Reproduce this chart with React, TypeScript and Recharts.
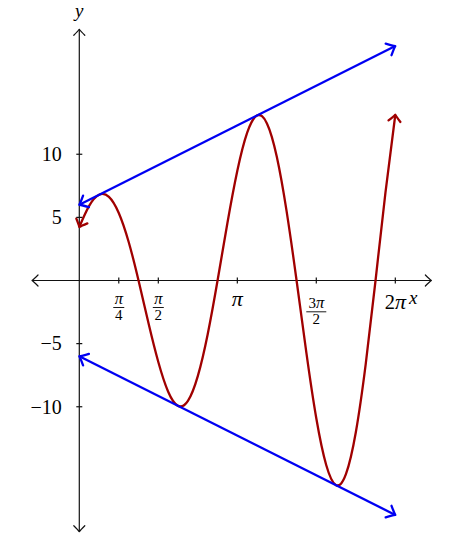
import React from "react";
import { LineChart, Line, XAxis, YAxis, ReferenceDot } from "recharts";

// curve samples
const curveX = [
  0, 0.196, 0.393, 0.589, 0.785, 0.982, 1.178, 1.374, 1.571, 1.767, 1.963,
  2.16, 2.356, 2.553, 2.749, 2.945, 3.142, 3.338, 3.534, 3.731, 3.927, 4.123,
  4.32, 4.516, 4.712, 4.909, 5.105, 5.301, 5.498, 5.694, 5.89, 6.087, 6.283,
];
const curveY = [
  4.24, 5.91, 6.79, 6.63, 5.35, 3.05, 0, -3.35, -6.46, -8.81, -9.93, -9.53,
  -7.57, -4.25, 0, 4.55, 8.69, 11.71, 13.07, 12.44, 9.8, 5.45, 0, -5.75,
  -10.91, -14.61, -16.21, -15.34, -12.02, -6.65, 0, 6.96, 13.13,
];

// envelope lines
const upperX = [0, 6.283];
const upperY = [6, 18.57];
const lowerX = [0, 6.283];
const lowerY = [-6, -18.57];

// axis extents
const xAxisEnds = [-0.94, 7.0];
const yAxisEnds = [-19.9, 19.9];

// ticks
const xTickValues = [0.785, 1.571, 3.142, 4.712, 6.283];
const xTickNum = ["π", "π", "π", "3π", "2π"];
const xTickDen = ["4", "2", "", "2", ""];
const yTickValues = [10, 5, -5, -10];
const yTickLabels = ["10", "5", "−5", "−10"];

const RED = "#a00000";
const BLUE = "#0000f2";
const AXIS = "#111";
const FONT = '"Liberation Serif", "Times New Roman", serif';

const toPoints = (xs: number[], ys: number[]) =>
  xs.map((x, i) => ({ x, y: ys[i] }));

const curveData = toPoints(curveX, curveY);
const upperData = toPoints(upperX, upperY);
const lowerData = toPoints(lowerX, lowerY);
const xAxisData = toPoints(xAxisEnds, [0, 0]);
const yAxisData = toPoints([0, 0], yAxisEnds);

// π goes italic, digits stay upright
const mathSpans = (text: string, piSize: number) =>
  text
    .split(/(π)/)
    .filter(Boolean)
    .map((p, i) => (
      <tspan
        key={`${text}${i}`}
        fontStyle={p === "π" ? "italic" : undefined}
        fontSize={p === "π" ? piSize : undefined}
      >
        {p}
      </tspan>
    ));

const xTickShape = (num: string, den: string) => (p: any) => {
  const { cx, cy } = p;
  const hasDigit = /\d/.test(num);
  const lift = hasDigit ? 4.3 : 0;
  const w = num.length > 1 ? 20 : 11;
  if (!den) {
    return (
      <g>
        <line x1={cx} x2={cx} y1={cy - 3} y2={cy + 3} stroke={AXIS} strokeWidth={1.2} />
        <text
          x={cx}
          y={cy + (hasDigit ? 28.6 : 25.3)}
          textAnchor="middle"
          fontSize={20.5}
          fontFamily={FONT}
          fill="#000"
        >
          {mathSpans(num, 22)}
        </text>
      </g>
    );
  }
  return (
    <g>
      <line x1={cx} x2={cx} y1={cy - 3} y2={cy + 3} stroke={AXIS} strokeWidth={1.2} />
      <line
        x1={cx - w / 2}
        x2={cx + w / 2}
        y1={cy + 27 + lift}
        y2={cy + 27 + lift}
        stroke="#000"
        strokeWidth={0.9}
      />
      <text textAnchor="middle" fontSize={15} fontFamily={FONT} fill="#000">
        <tspan x={cx} y={cy + 23.3 + lift}>
          {mathSpans(num, 16.5)}
        </tspan>
        <tspan x={cx} y={cy + 39.6 + lift}>
          {den}
        </tspan>
      </text>
    </g>
  );
};

const yTickShape = (label: string) => (p: any) => {
  const { cx, cy } = p;
  return (
    <g>
      <line x1={cx - 3} x2={cx + 3} y1={cy} y2={cy} stroke={AXIS} strokeWidth={1.2} />
      <text
        x={cx - 17.5}
        y={cy + 6.8}
        textAnchor="end"
        fontSize={20}
        fontFamily={FONT}
        fill="#000"
      >
        {label}
      </text>
    </g>
  );
};

const axisLabel = (label: string, dx: number, dy: number, anchor: string) => (p: any) =>
  (
    <text
      x={p.cx + dx}
      y={p.cy + dy}
      textAnchor={anchor}
      fontSize={19}
      fontStyle="italic"
      fontFamily={FONT}
      fill="#000"
    >
      {label}
    </text>
  );

function Arrow({ id, color, width, back, half }: any) {
  return (
    <marker
      id={id}
      markerUnits="userSpaceOnUse"
      markerWidth={1}
      markerHeight={1}
      refX={0}
      refY={0}
      orient="auto-start-reverse"
      overflow="visible"
    >
      <path
        d={`M ${-back} ${-half} Q ${-back * 0.28} ${-half * 0.22} 0 0 Q ${-back * 0.28} ${half * 0.22} ${-back} ${half}`}
        fill="none"
        stroke={color}
        strokeWidth={width}
        strokeLinecap="round"
        strokeLinejoin="round"
      />
    </marker>
  );
}

export default function App() {
  return (
    <div style={{ position: "absolute", left: 0, top: 0, width: 453, height: 542, background: "#fff" }}>
      <LineChart width={453} height={542} margin={{ top: 28, right: 16.6, bottom: 9, left: 29 }}>
        <defs>
          <Arrow id="arrAxis" color={AXIS} width={1.2} back={6} half={5.5} />
          <Arrow id="arrBlue" color={BLUE} width={2.3} back={7.5} half={6.5} />
          <Arrow id="arrRed" color={RED} width={2.3} back={6.5} half={6} />
        </defs>
        <XAxis type="number" dataKey="x" domain={[-1, 7.1]} hide />
        <YAxis type="number" domain={[-20, 20]} hide />
        <Line
          data={xAxisData}
          dataKey="y"
          type="linear"
          stroke={AXIS}
          strokeWidth={1.2}
          dot={false}
          activeDot={false}
          isAnimationActive={false}
          markerStart="url(#arrAxis)"
          markerEnd="url(#arrAxis)"
        />
        <Line
          data={yAxisData}
          dataKey="y"
          type="linear"
          stroke={AXIS}
          strokeWidth={1.2}
          dot={false}
          activeDot={false}
          isAnimationActive={false}
          markerStart="url(#arrAxis)"
          markerEnd="url(#arrAxis)"
        />
        <Line
          data={curveData}
          dataKey="y"
          type="natural"
          stroke={RED}
          strokeWidth={2.3}
          dot={false}
          activeDot={false}
          isAnimationActive={false}
          markerStart="url(#arrRed)"
          markerEnd="url(#arrRed)"
        />
        <Line
          data={upperData}
          dataKey="y"
          type="linear"
          stroke={BLUE}
          strokeWidth={2.3}
          dot={false}
          activeDot={false}
          isAnimationActive={false}
          markerStart="url(#arrBlue)"
          markerEnd="url(#arrBlue)"
        />
        <Line
          data={lowerData}
          dataKey="y"
          type="linear"
          stroke={BLUE}
          strokeWidth={2.3}
          dot={false}
          activeDot={false}
          isAnimationActive={false}
          markerStart="url(#arrBlue)"
          markerEnd="url(#arrBlue)"
        />
        {xTickValues.map((v, i) => (
          <ReferenceDot key={`xt${i}`} x={v} y={0} shape={xTickShape(xTickNum[i], xTickDen[i])} />
        ))}
        {yTickValues.map((v, i) => (
          <ReferenceDot key={`yt${i}`} x={0} y={v} shape={yTickShape(yTickLabels[i])} />
        ))}
        <ReferenceDot x={0} y={yAxisEnds[1]} shape={axisLabel("y", 0, -12.3, "middle")} />
        <ReferenceDot x={xAxisEnds[1]} y={0} shape={axisLabel("x", -22.4, 23.3, "start")} />
      </LineChart>
    </div>
  );
}
